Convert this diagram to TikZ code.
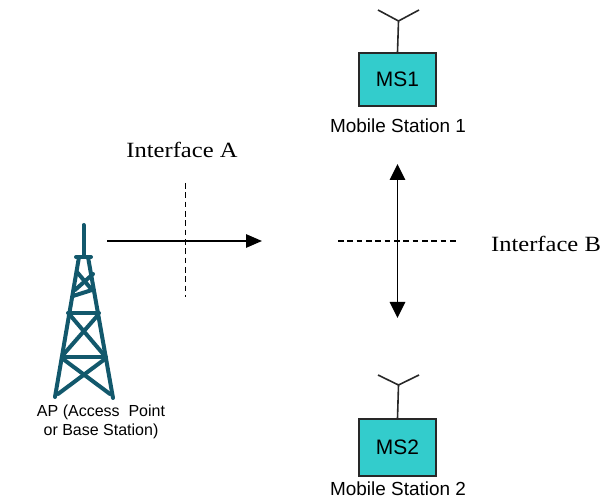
\documentclass[tikz,border=0pt]{standalone}
\usepackage{fontspec}
\setmainfont{Liberation Serif}
\setsansfont{Liberation Sans}
\usetikzlibrary{arrows.meta}
\definecolor{towercol}{RGB}{18,88,108}
\definecolor{msfill}{RGB}{51,204,204}
\definecolor{msline}{RGB}{40,40,40}
\tikzset{
  msbox/.style={draw=msline, line width=1.2pt, fill=msfill, inner sep=0pt,
    font=\sffamily\fontsize{15.7}{18}\selectfont},
  msname/.style={font=\sffamily\fontsize{14.2}{17}\selectfont, inner sep=0pt},
  ifname/.style={font=\rmfamily\fontsize{16.3}{19}\selectfont, inner sep=0pt},
  aplabel/.style={font=\sffamily\fontsize{12}{14.4}\selectfont, align=center, inner sep=0pt},
  antenna/.style={draw=msline, line width=1.2pt},
  link/.style={line width=1.4pt},
  cut/.style={line width=1.3pt, dash pattern=on 4.2pt off 2.8pt},
  tower/.style={draw=towercol, line width=3pt, line cap=round, line join=round},
}
\begin{document}
\begin{tikzpicture}[x=0.75pt, y=-0.75pt]
\useasboundingbox (0,0) rectangle (602,498);

% mobile stations
\node[msbox, minimum width=57.75pt, minimum height=39.75pt] (ms1) at (397.5,79.5) {MS1};
\node[msname] (ms1lbl) at (398,126) {Mobile Station 1};
\node[msbox, minimum width=57.75pt, minimum height=42.75pt] (ms2) at (397.5,447.6) {MS2};
\node[msname] (ms2lbl) at (398,489) {Mobile Station 2};

% antennas
\coordinate (a1top) at (398.5,21);
\coordinate (a1l) at (378,10);
\coordinate (a1r) at (419,10);
\draw[antenna] (ms1.north) -- (a1top) (a1l) -- (a1top) -- (a1r);
\coordinate (a2top) at (398.5,385);
\coordinate (a2l) at (378,375);
\coordinate (a2r) at (419,375);
\draw[antenna] (ms2.north) -- (a2top) (a2l) -- (a2top) -- (a2r);

% interface A
\node[ifname] (ifA) at (182,150) {\scalebox{1.13}[1]{Interface A}};
\coordinate (aS) at (107,241);
\coordinate (aE) at (262,241);
\draw[link, -{Triangle[length=12pt, width=10pt]}] (aS) -- (aE);
\coordinate (cA1) at (185.5,183);
\coordinate (cA2) at (185.5,297);
\draw[cut] (cA1) -- (cA2);

% interface B
\node[ifname] (ifB) at (546,244) {\scalebox{1.13}[1]{Interface B}};
\coordinate (bT) at (397.5,164);
\coordinate (bB) at (397.5,318);
\draw[link, {Triangle[length=12pt, width=11.5pt]}-{Triangle[length=12pt, width=11.5pt]}] (bT) -- (bB);
\coordinate (cB1) at (338,241);
\coordinate (cB2) at (456,241);
\draw[cut] (cB1) -- (cB2);

% access point tower
\coordinate (tTop) at (83.5,225);
\coordinate (tMast) at (83.5,257);
\coordinate (pL) at (76,257);
\coordinate (pR) at (91,257);
\coordinate (lTop) at (79,257);
\coordinate (rTop) at (88,257);
\coordinate (lBot) at (55,397);
\coordinate (rBot) at (113,398);
\draw[tower] (tTop) -- (tMast);
\draw[tower] (pL) -- (pR);
\draw[tower] (lTop) -- (lBot);
\draw[tower] (rTop) -- (rBot);
\draw[tower] (77,272) -- (92,290) -- (73,296);
\draw[tower] (93,274) -- (75,290);
\draw[tower] (68,313) -- (99,313);
\draw[tower] (62,357) -- (106,357);
\draw[tower] (70,315) -- (104,355);
\draw[tower] (98,315) -- (63,355);
\draw[tower] (63,359) -- (110,394);
\draw[tower] (105,359) -- (58,394);
\node[aplabel] (ap) at (101,422) {AP (Access\ \ Point\\or Base Station)};
\end{tikzpicture}
\end{document}
